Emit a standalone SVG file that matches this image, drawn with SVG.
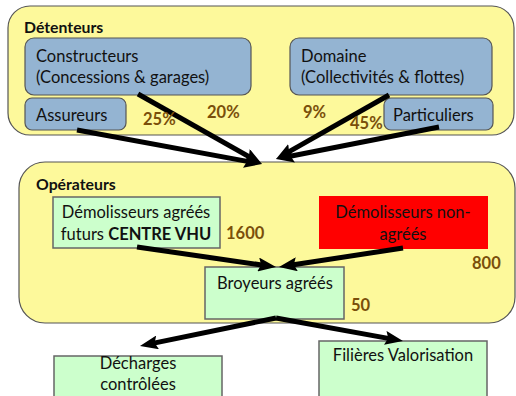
<svg xmlns="http://www.w3.org/2000/svg" width="516" height="396" viewBox="0 0 516 396">
  <defs>
    <marker id="head" viewBox="0 0 18 14" refX="10" refY="7" markerWidth="18" markerHeight="14" markerUnits="userSpaceOnUse" orient="auto">
      <path d="M0,0 L18,7 L0,14 L3,7 Z" fill="#000"/>
    </marker>
  </defs>
  <style>
    text { font-family: Lato, "Liberation Sans", sans-serif; font-size: 16.5px; fill: #111; }
    .title { font-weight: bold; font-size: 15.8px; }
    .group { fill: #fdf99b; stroke: #555; stroke-width: 1.2; }
    .blue { fill: #94b4d2; stroke: #555; stroke-width: 1.2; }
    .green { fill: #ccffcc; stroke: #666; stroke-width: 1.5; }
    .red { fill: #ff0000; stroke: none; }
    .pct { font-weight: bold; fill: #7a4f0a; font-size: 16.5px; }
    .mid { text-anchor: middle; }
    .arrow { stroke: #000; stroke-width: 5; fill: none; marker-end: url(#head); }
  </style>

  <!-- holders -->
  <g id="detenteurs">
    <rect class="group" x="8" y="6" width="506" height="129" rx="22"/>
    <text class="title" x="24" y="33">Détenteurs</text>
  </g>
  <g id="constructeurs">
    <rect class="blue" x="25" y="38" width="226" height="57" rx="9"/>
    <text x="36" y="62">Constructeurs</text>
    <text x="36" y="83">(Concessions &amp; garages)</text>
  </g>
  <g id="assureurs">
    <rect class="blue" x="25" y="98" width="101" height="32" rx="7"/>
    <text x="36" y="121">Assureurs</text>
  </g>
  <g id="domaine">
    <rect class="blue" x="290" y="38" width="202" height="57" rx="9"/>
    <text x="301" y="62">Domaine</text>
    <text x="301" y="83">(Collectivités &amp; flottes)</text>
  </g>
  <g id="particuliers">
    <rect class="blue" x="384" y="98" width="109" height="32" rx="7"/>
    <text x="393" y="121">Particuliers</text>
  </g>

  <!-- operators -->
  <g id="operateurs">
    <rect class="group" x="19" y="162" width="496" height="161" rx="26"/>
    <text class="title" x="36" y="190">Opérateurs</text>
  </g>
  <g id="demolisseurs-agrees">
    <rect class="green" x="53" y="197" width="167" height="51"/>
    <text class="mid" x="136" y="218">Démolisseurs agréés</text>
    <text class="mid" x="136" y="240">futurs <tspan font-weight="bold">CENTRE VHU</tspan></text>
  </g>
  <g id="demolisseurs-non-agrees">
    <rect class="red" x="319" y="196" width="169" height="53"/>
    <text class="mid" x="403" y="218">Démolisseurs non-</text>
    <text class="mid" x="403" y="240">agréés</text>
  </g>
  <g id="broyeurs">
    <rect class="green" x="205" y="267" width="139" height="52"/>
    <text class="mid" x="275" y="289">Broyeurs agréés</text>
  </g>

  <!-- outlets -->
  <g id="decharges">
    <rect class="green" x="54" y="356" width="168" height="48"/>
    <text class="mid" x="138" y="369">Décharges</text>
    <text class="mid" x="138" y="390">contrôlées</text>
  </g>
  <g id="filieres">
    <rect class="green" x="319" y="341" width="168" height="63"/>
    <text class="mid" x="403" y="361">Filières Valorisation</text>
  </g>

  <!-- flows -->
  <g id="connectors">
    <line class="arrow" x1="138" y1="94" x2="255" y2="160.1"/>
    <line class="arrow" x1="77" y1="130" x2="254.1" y2="162.6"/>
    <line class="arrow" x1="389" y1="95" x2="283" y2="155.1"/>
    <line class="arrow" x1="439" y1="127" x2="283.8" y2="157.5"/>
    <line class="arrow" x1="137" y1="247" x2="268.1" y2="265.9"/>
    <line class="arrow" x1="403" y1="248" x2="286.9" y2="265.8"/>
    <line class="arrow" x1="276" y1="318" x2="147.8" y2="344.4"/>
    <line class="arrow" x1="276" y1="318" x2="395.1" y2="339.6"/>
  </g>

  <!-- shares and counts -->
  <g id="labels">
    <text class="pct" x="143" y="125">25%</text>
    <text class="pct" x="207" y="118">20%</text>
    <text class="pct" x="303" y="118">9%</text>
    <text class="pct" x="350" y="129">45%</text>
    <text class="pct" x="226" y="239">1600</text>
    <text class="pct" x="472" y="269">800</text>
    <text class="pct" x="351" y="311">50</text>
  </g>
</svg>
